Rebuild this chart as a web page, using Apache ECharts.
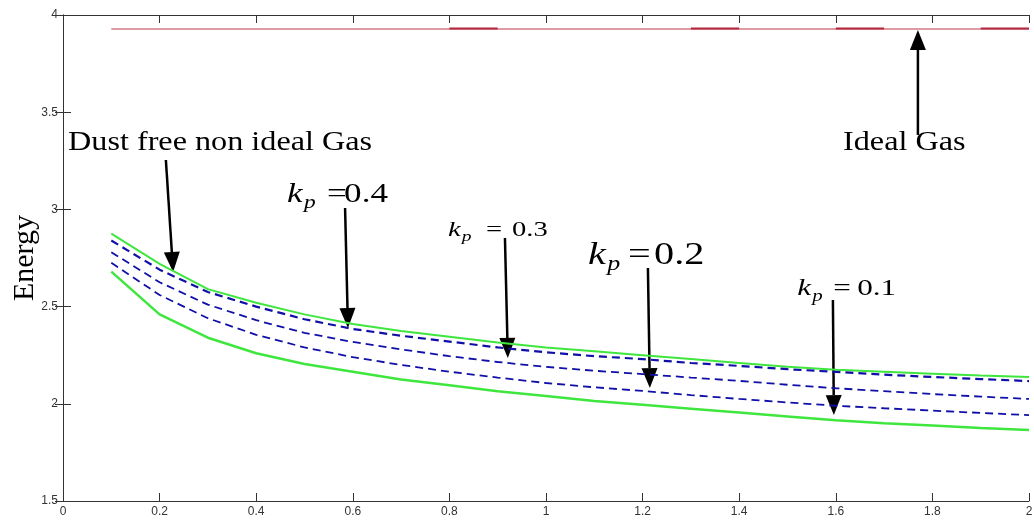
<!DOCTYPE html>
<html>
<head>
<meta charset="utf-8">
<script src="https://cdn.jsdelivr.net/npm/echarts@6/dist/echarts.min.js"></script>
<style>
  html, body { margin: 0; padding: 0; background: #fff; }
  #chart { width: 1034px; height: 525px; }
</style>
</head>
<body>
<div id="chart"></div>
<script>
// values
const xValues = [0.1, 0.2, 0.3, 0.4, 0.5, 0.6, 0.7, 0.8, 0.9, 1.0, 1.1, 1.2, 1.3, 1.4, 1.5, 1.6, 1.7, 1.8, 1.9, 2.0];
const dustFree = [2.875, 2.72, 2.59, 2.52, 2.46, 2.41, 2.375, 2.345, 2.315, 2.29, 2.27, 2.25, 2.23, 2.21, 2.19, 2.175, 2.165, 2.155, 2.145, 2.138];
const kp04 = [2.84, 2.69, 2.575, 2.50, 2.435, 2.385, 2.35, 2.32, 2.29, 2.265, 2.245, 2.23, 2.21, 2.195, 2.178, 2.164, 2.15, 2.138, 2.127, 2.117];
const kp03 = [2.78, 2.625, 2.51, 2.43, 2.365, 2.318, 2.28, 2.245, 2.215, 2.19, 2.17, 2.153, 2.135, 2.118, 2.098, 2.08, 2.065, 2.05, 2.037, 2.025];
const kp02 = [2.725, 2.56, 2.44, 2.355, 2.29, 2.24, 2.2, 2.165, 2.135, 2.107, 2.085, 2.066, 2.045, 2.025, 2.007, 1.99, 1.977, 1.965, 1.953, 1.942];
const kp01 = [2.68, 2.46, 2.34, 2.26, 2.205, 2.165, 2.125, 2.095, 2.065, 2.04, 2.015, 1.995, 1.975, 1.955, 1.935, 1.915, 1.9, 1.888, 1.876, 1.865];
const idealX = [0.1, 2.0];
const idealGas = [3.928, 3.928];
// darker overdrawn pieces of the ideal gas line
const idealDarkX = [0.8, 0.9, null, 1.3, 1.4, null, 1.6, 1.7, null, 1.9, 2.0];
const idealDark = [3.93, 3.93, null, 3.93, 3.93, null, 3.93, 3.93, null, 3.93, 3.93];

// annotation arrows (data coords)
const arrows = [
  { from: [0.213, 3.254], to: [0.228, 2.678] },
  { from: [1.770, 3.383], to: [1.770, 3.923] },
  { from: [0.584, 3.007], to: [0.590, 2.390] },
  { from: [0.915, 2.853], to: [0.921, 2.236] },
  { from: [1.211, 2.699], to: [1.215, 2.081] },
  { from: [1.594, 2.534], to: [1.596, 1.942] }
];
const notes = [
  { text: 'Dust free non ideal Gas', at: [0.0104, 3.342], size: 28 },
  { text: 'Ideal Gas', at: [1.615, 3.342], size: 28 }
];
// eq / num: pixel offsets of "=" and the number from the k
const kpNotes = [
  { value: '0.4', at: [0.464, 3.074], size: 27, eq: 40, num: 57 },
  { value: '0.3', at: [0.797, 2.891], size: 22, eq: 38, num: 64 },
  { value: '0.2', at: [1.087, 2.763], size: 31, eq: 40, num: 66 },
  { value: '0.1', at: [1.520, 2.590], size: 24, eq: 36, num: 60 }
];

const pairs = (xs, ys) => xs.map((x, i) => (x === null ? '-' : [x, ys[i]]));
const serif = '"Liberation Serif", "Times New Roman", serif';

const axisCommon = {
  type: 'value',
  axisLine: { show: true, lineStyle: { color: '#333', width: 1 } },
  axisTick: { show: true, inside: true, length: 8, lineStyle: { color: '#333' } },
  splitLine: { show: false }
};

const option = {
  animation: false,
  backgroundColor: '#fff',
  grid: { left: 63, right: 5, top: 15, bottom: 24, containLabel: false, outerBoundsMode: 'none' },
  xAxis: [
    Object.assign({}, axisCommon, {
      min: 0, max: 2, interval: 0.2, position: 'bottom',
      axisLabel: { color: '#333', fontSize: 12, fontFamily: '"Liberation Sans", Arial', margin: 5 }
    }),
    Object.assign({}, axisCommon, {
      min: 0, max: 2, interval: 0.2, position: 'top', axisLabel: { show: false }
    })
  ],
  yAxis: [
    Object.assign({}, axisCommon, {
      min: 1.5, max: 4, interval: 0.5, position: 'left',
      name: 'Energy', nameLocation: 'middle', nameGap: 23, nameMoveOverlap: false,
      nameTextStyle: { fontFamily: serif, fontSize: 30, color: '#000' },
      axisLabel: { color: '#333', fontSize: 12, fontFamily: '"Liberation Sans", Arial', margin: 5 }
    }),
    Object.assign({}, axisCommon, {
      min: 1.5, max: 4, interval: 0.5, position: 'right', axisLabel: { show: false }
    })
  ],
  series: [
    {
      name: 'Ideal Gas', type: 'line', data: pairs(idealX, idealGas), showSymbol: false,
      lineStyle: { color: '#d57a86', width: 1.5 }
    },
    {
      name: 'Ideal Gas dark', type: 'line', data: pairs(idealDarkX, idealDark), showSymbol: false,
      connectNulls: false, lineStyle: { color: '#b3283e', width: 2 }
    },
    {
      name: 'Dust free', type: 'line', data: pairs(xValues, dustFree), showSymbol: false,
      lineStyle: { color: '#3ee63e', width: 2 }
    },
    {
      name: 'kp=0.4', type: 'line', data: pairs(xValues, kp04), showSymbol: false,
      lineStyle: { color: '#1010a8', width: 2.2, type: [8, 5] }
    },
    {
      name: 'kp=0.3', type: 'line', data: pairs(xValues, kp03), showSymbol: false,
      lineStyle: { color: '#1010a8', width: 1.8, type: [8, 5] }
    },
    {
      name: 'kp=0.2', type: 'line', data: pairs(xValues, kp02), showSymbol: false,
      lineStyle: { color: '#1010a8', width: 1.8, type: [8, 5] }
    },
    {
      name: 'kp=0.1', type: 'line', data: pairs(xValues, kp01), showSymbol: false,
      lineStyle: { color: '#3ee63e', width: 2.5 }
    }
  ]
};

const chart = echarts.init(document.getElementById('chart'));
chart.setOption(option);

// arrows and text placed through the grid's own scale
const px = p => chart.convertToPixel({ gridIndex: 0 }, p);
const graphics = [];

arrows.forEach(a => {
  const p1 = px(a.from), p2 = px(a.to);
  const dx = p2[0] - p1[0], dy = p2[1] - p1[1];
  const len = Math.hypot(dx, dy), ux = dx / len, uy = dy / len;
  const head = 20, half = 8;
  const bx = p2[0] - ux * head, by = p2[1] - uy * head;
  graphics.push({
    type: 'line', silent: true,
    shape: { x1: p1[0], y1: p1[1], x2: bx, y2: by },
    style: { stroke: '#000', lineWidth: 2.5 }
  });
  graphics.push({
    type: 'polygon', silent: true,
    shape: { points: [p2, [bx - uy * half, by + ux * half], [bx + uy * half, by - ux * half]] },
    style: { fill: '#000' }
  });
});

notes.forEach(n => {
  const p = px(n.at);
  graphics.push({
    type: 'text', x: p[0], y: p[1], scaleX: 1.15, silent: true,
    style: { text: n.text, font: n.size + 'px ' + serif, fill: '#000', textVerticalAlign: 'middle' }
  });
});

kpNotes.forEach(n => {
  const p = px(n.at), s = n.size, sx = 1.3;
  const part = (dx, dy, text, font) => ({
    type: 'text', x: p[0] + dx, y: p[1] + dy, scaleX: sx, silent: true,
    style: { text: text, font: font, fill: '#000', textVerticalAlign: 'middle' }
  });
  graphics.push(part(0, 0, 'k', 'italic ' + s + 'px ' + serif));
  graphics.push(part(0.48 * s * sx, 0.3 * s, 'p', 'italic ' + Math.round(0.66 * s) + 'px ' + serif));
  graphics.push(part(n.eq, 0, '=', s + 'px ' + serif));
  graphics.push(part(n.num, 0, n.value, s + 'px ' + serif));
});

chart.setOption({ graphic: graphics });
</script>
</body>
</html>
